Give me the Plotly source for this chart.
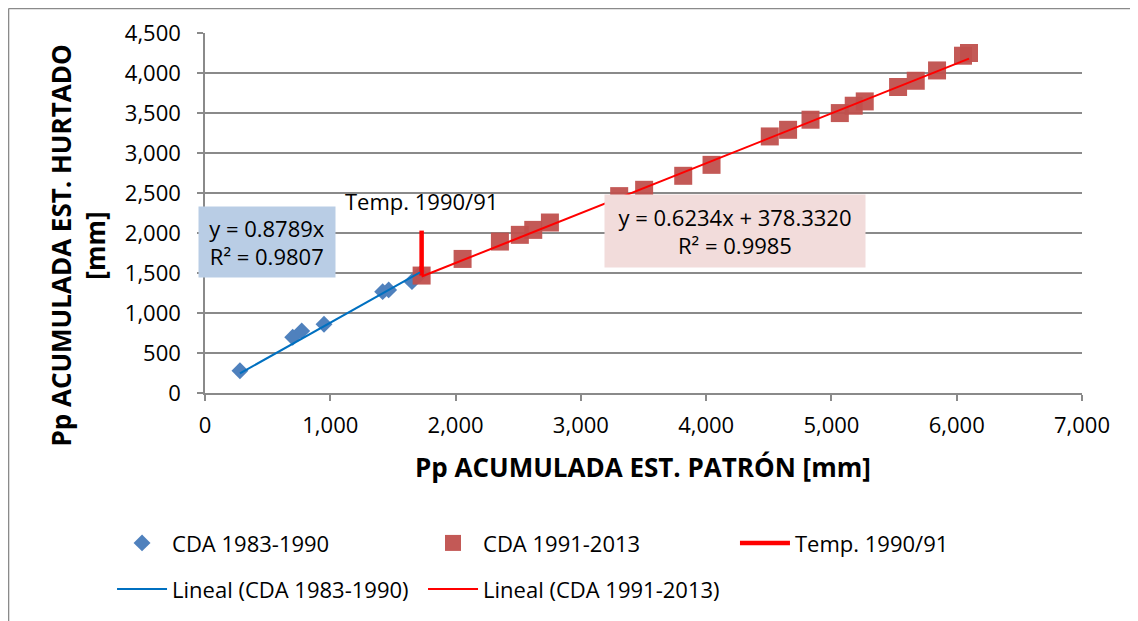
import plotly.graph_objects as go

# CDA 1983-1990 (blue diamonds)
x_8390 = [279, 700, 772, 950, 1418, 1466, 1652, 1716]
y_8390 = [279, 697, 776, 859, 1267, 1289, 1392, 1485]

# CDA 1991-2013 (red squares)
x_9113 = [1729, 2056, 2354, 2513, 2620, 2753, 3306, 3505, 3817, 4043,
          4508, 4654, 4833, 5067, 5178, 5266, 5532, 5673, 5843, 6050, 6098]
y_9113 = [1468, 1676, 1893, 1977, 2039, 2131, 2461, 2540, 2715, 2852,
          3207, 3290, 3416, 3499, 3591, 3645, 3825, 3903, 4032, 4216, 4250]

# break marker between periods
x_temp = [1729, 1729]
y_temp = [1468, 2030]

# trendlines (Excel fits)
slope_a = 0.8789
slope_b, icpt_b = 0.6234, 378.3320

x_ticks = [0, 1000, 2000, 3000, 4000, 5000, 6000, 7000]
y_ticks = [0, 500, 1000, 1500, 2000, 2500, 3000, 3500, 4000, 4500]

FONT = "Open Sans, sans-serif"
GRID = "#8a8a8a"
BLUE = "#4F81BD"
RED_M = "#C0504D"

fit_a_x = [min(x_8390), max(x_8390)]
fit_a_y = [slope_a * v for v in fit_a_x]
fit_b_x = [min(x_9113), max(x_9113)]
fit_b_y = [slope_b * v + icpt_b for v in fit_b_x]

fig = go.Figure()
fig.add_trace(go.Scatter(x=x_8390, y=y_8390, mode="markers", name="CDA 1983-1990",
                         marker=dict(symbol="diamond", size=13, color=BLUE), legend="legend"))
fig.add_trace(go.Scatter(x=x_9113, y=y_9113, mode="markers", name="CDA 1991-2013",
                         marker=dict(symbol="square", size=18, color=RED_M, opacity=0.95), legend="legend2"))
fig.add_trace(go.Scatter(x=x_temp, y=y_temp, mode="lines", name="Temp. 1990/91",
                         line=dict(color="#FF0000", width=4.5), legend="legend3"))
fig.add_trace(go.Scatter(x=fit_a_x, y=fit_a_y, mode="lines", name="Lineal (CDA 1983-1990)",
                         line=dict(color="#0070C0", width=2), legend="legend4"))
fig.add_trace(go.Scatter(x=fit_b_x, y=fit_b_y, mode="lines", name="Lineal (CDA 1991-2013)",
                         line=dict(color="#FF0000", width=2), legend="legend5"))


def leg(x, y):
    return dict(x=x, y=y, xanchor="left", yanchor="middle", orientation="h",
                bgcolor="rgba(0,0,0,0)", itemwidth=50,
                font=dict(family=FONT, size=22, color="#000"))


# page body has an 8px default margin, so the plot box is shifted back by 8px
fig.update_layout(
    width=1138, height=621,
    paper_bgcolor="white", plot_bgcolor="white",
    margin=dict(l=197, r=64, t=25, b=236, autoexpand=False),
    font=dict(family=FONT, size=22, color="#000"),
    showlegend=True,
    legend=leg(-0.106, -0.417),
    legend2=leg(0.2486, -0.417),
    legend3=leg(0.6043, -0.417),
    legend4=leg(-0.106, -0.545),
    legend5=leg(0.2486, -0.545),
    xaxis=dict(range=[0, 7000], tickvals=x_ticks, tickformat=",", showgrid=False,
               zeroline=False, showline=True, linecolor=GRID, linewidth=1.5,
               ticks="outside", ticklen=6, tickcolor=GRID, tickwidth=1.5,
               ticklabelstandoff=6, tickfont=dict(family=FONT, size=22)),
    yaxis=dict(range=[0, 4500], tickvals=y_ticks, tickformat=",", showgrid=True,
               gridcolor=GRID, gridwidth=1.5, zeroline=False, showline=True,
               linecolor=GRID, linewidth=1.5, ticks="outside", ticklen=6,
               tickcolor=GRID, tickwidth=1.5, ticklabelstandoff=12,
               tickfont=dict(family=FONT, size=22)),
)

# axis titles
fig.add_annotation(text="<b>Pp ACUMULADA EST. PATRÓN [mm]</b>", xref="paper", yref="paper",
                   x=0.4989, y=-0.205, xanchor="center", yanchor="middle", showarrow=False,
                   font=dict(family=FONT, size=26))
fig.add_annotation(text="<b>Pp ACUMULADA EST. HURTADO<br>[mm]</b>", xref="paper", yref="paper",
                   x=-0.145, y=0.409, xanchor="center", yanchor="middle", showarrow=False,
                   textangle=-90, font=dict(family=FONT, size=26))

# trendline equation boxes
fig.add_annotation(text="y = 0.8789x<br>R² = 0.9807", x=495, y=1889, showarrow=False,
                   xanchor="center", yanchor="middle", align="center",
                   width=136, height=70, borderpad=0, bgcolor="#B9CDE5",
                   font=dict(family=FONT, size=22))
fig.add_annotation(text="y = 0.6234x + 378.3320<br>R² = 0.9985", x=4229, y=2027, showarrow=False,
                   xanchor="center", yanchor="middle", align="center",
                   width=260, height=72, borderpad=0, bgcolor="#F2DCDB",
                   font=dict(family=FONT, size=22))
fig.add_annotation(text="Temp. 1990/91", x=1729, y=2402, showarrow=False,
                   xanchor="center", yanchor="middle", font=dict(family=FONT, size=22))

# chart area border (left and top edges)
fig.add_shape(type="line", xref="paper", yref="paper", x0=-0.224, x1=1.08, y0=1.068, y1=1.068,
              line=dict(color="#8a8a8a", width=1.5))
fig.add_shape(type="line", xref="paper", yref="paper", x0=-0.224, x1=-0.224, y0=1.068, y1=-0.68,
              line=dict(color="#8a8a8a", width=1.5))

fig.write_html("out.html")
